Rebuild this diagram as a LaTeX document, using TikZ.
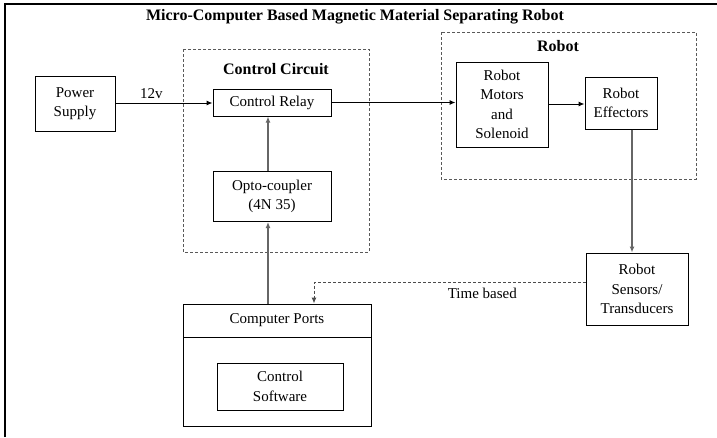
\documentclass[tikz,border=0pt]{standalone}
\usepackage{fontspec}
\setmainfont{Liberation Serif}
\usetikzlibrary{arrows.meta}
\begin{document}
\begin{tikzpicture}[x=1pt,y=-1pt,
  txt/.style={font=\fontsize{15}{19.5}\selectfont, align=center, inner sep=0pt},
  box/.style={draw=black, line width=1pt, fill=white, txt},
  group/.style={draw=black!65, dashed, dash pattern=on 3pt off 2pt, line width=1pt},
  arr/.style={line width=1pt, -{Latex[length=6pt,width=5pt]}},
  garr/.style={arr, line width=1.5pt, draw=black!60},
  ttl/.style={font=\fontsize{16}{18}\bfseries\selectfont, inner sep=0pt}]
\useasboundingbox (0,0) rectangle (717,437);
\fill[white] (0,0) rectangle (717,437);
% frame
\draw[line width=2pt] (5,437) -- (5,4) -- (717,4);
\node[ttl] (title) at (355,17) {Micro-Computer Based Magnetic Material Separating Robot};
% groups
\draw[group] (183,49) rectangle (369,252);
\node[ttl] (cctitle) at (276,69) {Control Circuit};
\draw[group] (441,32) rectangle (696,179);
\node[ttl] (rtitle) at (558,46) {Robot};
% boxes
\node[box, minimum width=80, minimum height=55] (ps) at (75,103.5) {Power\\Supply};
\node[box, minimum width=118, minimum height=27] (relay) at (272,102.5) {Control Relay};
\node[box, minimum width=118, minimum height=50] (opto) at (272,196.5) {Opto-coupler\\(4N 35)};
\node[box, minimum width=92, minimum height=85] (motors) at (502,104.5) {Robot\\Motors\\and\\Solenoid};
\node[box, minimum width=72, minimum height=52] (eff) at (621,103) {Robot\\Effectors};
\node[box, minimum width=102, minimum height=72] (sens) at (637,289) {Robot\\Sensors/\\Transducers};
\node[box, minimum width=188, minimum height=122] (cp) at (277,365) {};
\node[txt] (cplabel) at (277,320.5) {Computer Ports};
\draw[line width=1pt] (183,337) -- (371,337);
\node[box, minimum width=126, minimum height=47] (sw) at (280,386.5) {Control\\Software};
% connectors
\draw[arr] (ps.east |- 0,103) -- node[txt, above=4pt, pos=0.37] (v12) {12v} (relay.west |- 0,103);
\draw[arr] (relay.east) -- (motors.west |- relay.east);
\draw[arr] (motors.east |- 0,104) -- (eff.west |- 0,104);
\draw[garr] (opto.north -| 268,0) -- (relay.south -| 268,0);
\draw[garr] (cp.north -| 268,0) -- (opto.south -| 268,0);
\draw[garr] (eff.south -| 632,0) -- (sens.north -| 632,0);
\coordinate (bend) at (314,282);
\draw[arr, draw=black!70, dashed, dash pattern=on 3pt off 2pt] (sens.west |- bend) -- node[txt, below=6pt, pos=0.38] (tb) {Time based} (bend) -- (cp.north -| bend);
\end{tikzpicture}
\end{document}
